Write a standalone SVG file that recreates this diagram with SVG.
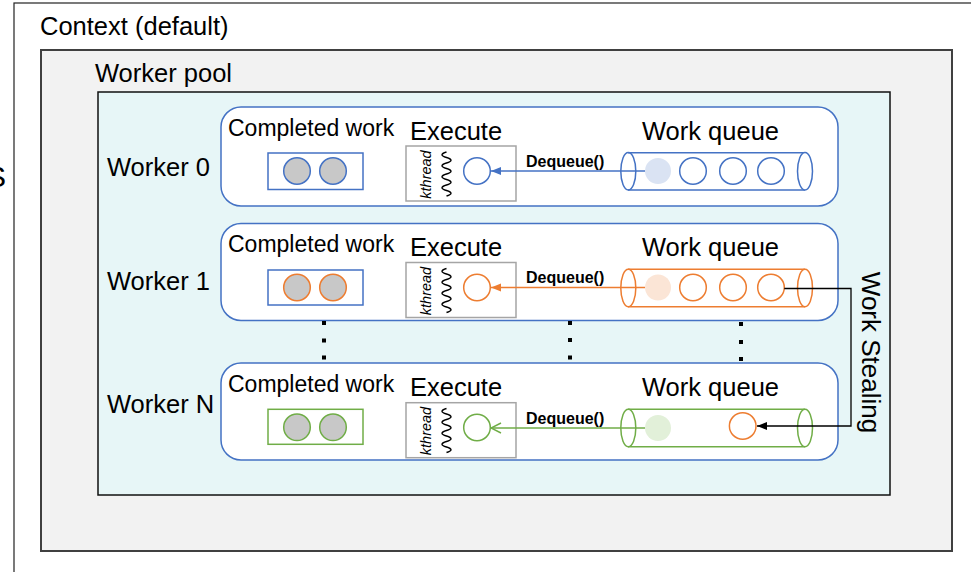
<svg xmlns="http://www.w3.org/2000/svg" width="971" height="572" viewBox="0 0 971 572">
<defs>
<style>
text{font-family:"Liberation Sans",Arial,sans-serif;fill:#000}
.big{font-size:25.5px}
.cw{font-size:23px}
.dq{font-size:16px;font-weight:bold}
.kt{font-size:14.5px;font-style:italic}
.wbox{fill:#fff;stroke:#4472c4;stroke-width:1.5}
.exec{fill:#fff;stroke:#a5a5a5;stroke-width:1.5}
.done{fill:#c8c8c8}
.sq{fill:none;stroke:#000;stroke-width:1.4}
</style>
<marker id="ab" viewBox="0 0 10 10" refX="10" refY="5" markerWidth="10" markerHeight="10" markerUnits="userSpaceOnUse" orient="auto"><path d="M0,1 L10,5 L0,9 z" fill="#4472c4"/></marker>
<marker id="ao" viewBox="0 0 10 10" refX="10" refY="5" markerWidth="10" markerHeight="10" markerUnits="userSpaceOnUse" orient="auto"><path d="M0,1 L10,5 L0,9 z" fill="#ed7d31"/></marker>
<marker id="ag" viewBox="0 0 12 12" refX="11" refY="6" markerWidth="12" markerHeight="12" markerUnits="userSpaceOnUse" orient="auto"><path d="M1,1 L11,6 L1,11" fill="none" stroke="#70ad47" stroke-width="1.4"/></marker>
<marker id="ak" viewBox="0 0 10 10" refX="10" refY="5" markerWidth="10" markerHeight="10" markerUnits="userSpaceOnUse" orient="auto"><path d="M0,1 L10,5 L0,9 z" fill="#000"/></marker>
</defs>
<rect width="971" height="572" fill="#fff"/>
<text x="6" y="187" font-size="30" text-anchor="end">S</text>
<g id="context">
<rect x="14" y="3" width="980" height="600" fill="#fff" stroke="#222" stroke-width="1.2"/>
<text class="big" x="40" y="35">Context (default)</text>
</g>
<g id="gray-area">
<rect x="41" y="50" width="911" height="501" fill="#f2f2f2" stroke="#404040" stroke-width="2"/>
<text class="big" x="95" y="82">Worker pool</text>
</g>
<g id="worker-pool">
<rect x="98" y="92" width="792" height="403" fill="#e7f6f7" stroke="#111" stroke-width="1.5"/>
</g>
<g id="labels">
<text class="big" x="107" y="176">Worker 0</text>
<text class="big" x="107" y="290">Worker 1</text>
<text class="big" x="107" y="413">Worker N</text>
</g>

<g id="worker0" transform="translate(0,107)">
<rect class="wbox" x="221" y="0" width="617" height="99" rx="20"/>
<text class="cw" x="228" y="28.7">Completed work</text>
<text class="big" x="410" y="33">Execute</text>
<text class="big" x="642" y="33">Work queue</text>
<rect x="268" y="46" width="95" height="36.5" fill="#fff" stroke="#4472c4" stroke-width="1.5"/>
<circle class="done" cx="297" cy="64" r="13.3" stroke="#4472c4" stroke-width="1.5"/>
<circle class="done" cx="333" cy="64" r="13.3" stroke="#4472c4" stroke-width="1.5"/>
<rect class="exec" x="406" y="39" width="110" height="55"/>
<text class="kt" transform="translate(431,67.5) rotate(-90)" text-anchor="middle">kthread</text>
<path class="sq" d="M446.5,45 q-9,2.75 0,5.5 t0,5.5 t0,5.5 t0,5.5 t0,5.5 t0,5.5 t0,5.5 t0,5.5"/>
<circle cx="477" cy="64" r="13.3" fill="#fff" stroke="#4472c4" stroke-width="1.5"/>
<path d="M628,45.7 H805 M628,83 H805" stroke="#4472c4" stroke-width="1.5"/>
<ellipse cx="628.3" cy="64.3" rx="7.5" ry="18.7" fill="none" stroke="#4472c4" stroke-width="1.5"/>
<ellipse cx="805" cy="64.3" rx="7.5" ry="18.7" fill="#fff" stroke="#4472c4" stroke-width="1.5"/>
<text class="dq" x="526" y="59.5">Dequeue()</text>
<circle cx="658" cy="64" r="13" fill="#dae3f3"/>
<circle cx="693" cy="64" r="13.3" fill="#fff" stroke="#4472c4" stroke-width="1.5"/>
<circle cx="733" cy="64" r="13.3" fill="#fff" stroke="#4472c4" stroke-width="1.5"/>
<circle cx="771" cy="64" r="13.3" fill="#fff" stroke="#4472c4" stroke-width="1.5"/>
</g>

<g id="worker1" transform="translate(0,223.5)">
<rect class="wbox" x="221" y="0" width="617" height="97" rx="20"/>
<text class="cw" x="228" y="28.2">Completed work</text>
<text class="big" x="410" y="32.5">Execute</text>
<text class="big" x="642" y="32.5">Work queue</text>
<rect x="268" y="46.5" width="95" height="35" fill="#fff" stroke="#4472c4" stroke-width="1.5"/>
<circle class="done" cx="297" cy="64" r="13.3" stroke="#ed7d31" stroke-width="1.5"/>
<circle class="done" cx="333" cy="64" r="13.3" stroke="#ed7d31" stroke-width="1.5"/>
<rect class="exec" x="406" y="39" width="110" height="55"/>
<text class="kt" transform="translate(431,67.5) rotate(-90)" text-anchor="middle">kthread</text>
<path class="sq" d="M446.5,45 q-9,2.75 0,5.5 t0,5.5 t0,5.5 t0,5.5 t0,5.5 t0,5.5 t0,5.5 t0,5.5"/>
<circle cx="477" cy="64" r="13.3" fill="#fff" stroke="#ed7d31" stroke-width="1.5"/>
<path d="M628,45.8 H805 M628,83.2 H805" stroke="#ed7d31" stroke-width="1.5"/>
<ellipse cx="628.3" cy="64.5" rx="7.5" ry="18.7" fill="none" stroke="#ed7d31" stroke-width="1.5"/>
<ellipse cx="805" cy="64.5" rx="7.5" ry="18.7" fill="#fff" stroke="#ed7d31" stroke-width="1.5"/>
<text class="dq" x="526" y="59.8">Dequeue()</text>
<circle cx="658" cy="64" r="13" fill="#fbe5d6"/>
<circle cx="693" cy="64" r="13.3" fill="#fff" stroke="#ed7d31" stroke-width="1.5"/>
<circle cx="733" cy="64" r="13.3" fill="#fff" stroke="#ed7d31" stroke-width="1.5"/>
<circle cx="771" cy="64" r="13.3" fill="#fff" stroke="#ed7d31" stroke-width="1.5"/>
</g>

<g id="workerN" transform="translate(0,363)">
<rect class="wbox" x="221" y="0" width="617" height="97" rx="20"/>
<text class="cw" x="228" y="28.7">Completed work</text>
<text class="big" x="410" y="33">Execute</text>
<text class="big" x="642" y="33">Work queue</text>
<rect x="268" y="46.3" width="95" height="35" fill="#fff" stroke="#70ad47" stroke-width="1.5"/>
<circle class="done" cx="297" cy="64.3" r="13.3" stroke="#70ad47" stroke-width="1.5"/>
<circle class="done" cx="333" cy="64.3" r="13.3" stroke="#70ad47" stroke-width="1.5"/>
<rect class="exec" x="406" y="39.7" width="110" height="55"/>
<text class="kt" transform="translate(431,68) rotate(-90)" text-anchor="middle">kthread</text>
<path class="sq" d="M446.5,45.5 q-9,2.75 0,5.5 t0,5.5 t0,5.5 t0,5.5 t0,5.5 t0,5.5 t0,5.5 t0,5.5"/>
<circle cx="477" cy="64.5" r="13.3" fill="#fff" stroke="#70ad47" stroke-width="1.5"/>
<path d="M628,46.3 H805 M628,83.7 H805" stroke="#70ad47" stroke-width="1.5"/>
<ellipse cx="628.3" cy="65" rx="7.5" ry="18.7" fill="none" stroke="#70ad47" stroke-width="1.5"/>
<ellipse cx="805" cy="65" rx="7.5" ry="18.7" fill="#fff" stroke="#70ad47" stroke-width="1.5"/>
<text class="dq" x="526" y="61">Dequeue()</text>
<circle cx="658" cy="65" r="13" fill="#e2f0d9"/>
<circle cx="742.7" cy="63" r="13.3" fill="#fff" stroke="#ed7d31" stroke-width="1.5"/>
</g>

<g id="dots" fill="#000">
<rect x="322" y="321" width="4" height="4"/><rect x="322" y="338.5" width="4" height="4"/><rect x="322" y="355.5" width="4" height="4"/>
<rect x="568" y="321" width="4" height="4"/><rect x="568" y="338" width="4" height="4"/><rect x="568" y="355.5" width="4" height="4"/>
<rect x="739" y="322" width="4" height="4"/><rect x="739" y="340" width="4" height="4"/><rect x="739" y="357" width="4" height="4"/>
</g>

<g id="connectors" fill="none">
<path d="M645,171 H491" stroke="#4472c4" stroke-width="1.5" marker-end="url(#ab)"/>
<path d="M645,287.5 H491" stroke="#ed7d31" stroke-width="1.5" marker-end="url(#ao)"/>
<path d="M645,428 H491" stroke="#70ad47" stroke-width="1.5" marker-end="url(#ag)"/>
<path d="M784.3,288.5 H851 V426 H757" stroke="#000" stroke-width="1.3" marker-end="url(#ak)"/>
</g>
<text class="big" font-size="26" transform="translate(862,352.5) rotate(90)" text-anchor="middle" style="font-size:26px">Work Stealing</text>
</svg>
